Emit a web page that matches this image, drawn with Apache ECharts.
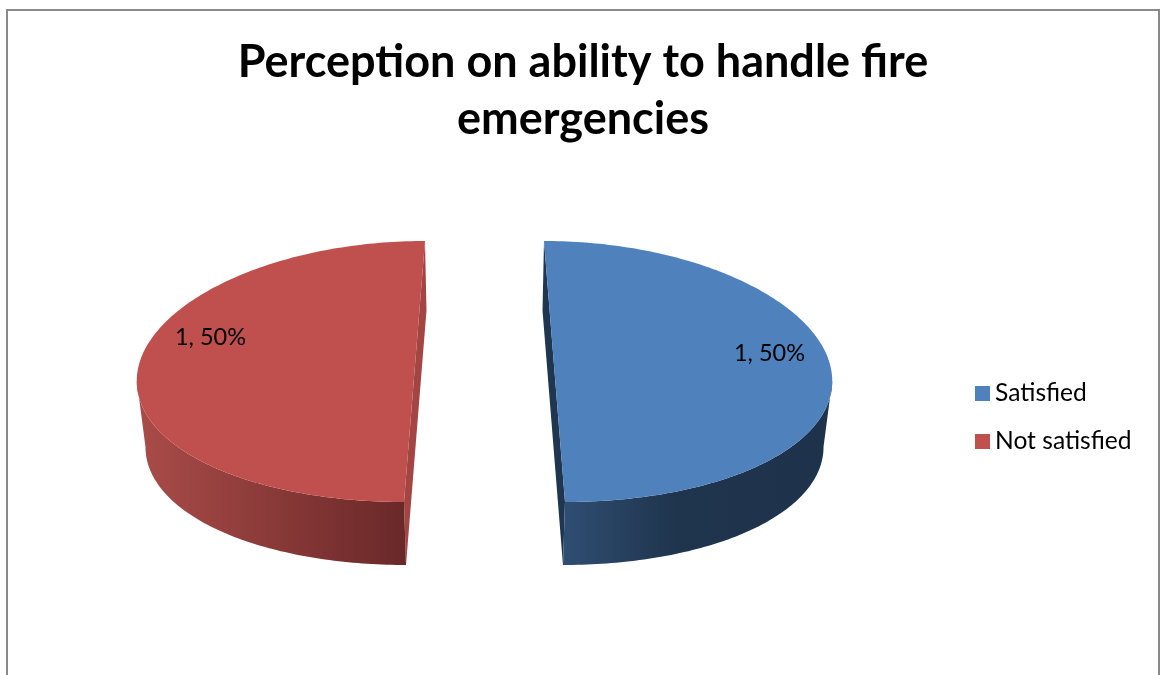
<!DOCTYPE html>
<html><head><meta charset="utf-8">
<style>html,body{margin:0;padding:0;background:#fff;overflow:hidden}#c{width:1160px;height:675px}</style>
<script src="https://cdn.jsdelivr.net/npm/echarts@6/dist/echarts.min.js"></script>
</head><body><div id="c"></div>
<script>
const titleText = 'Perception on ability to handle fire\nemergencies';
const categories = ['Satisfied', 'Not satisfied'];
const values = [1, 1];

const FONT = 'Lato, "Open Sans", sans-serif';
const topColors = ['#4F81BD', '#C0504D'];
const cutColors = ['#1F3650', '#A34543'];
const wallStops = [
  [[0, '#2F4E73'], [0.42, '#1F344D'], [1, '#1E334B']],
  [[0, '#AA4C49'], [1, '#692828']]
];
const labelOffsets = [[215, -18], [-204, -34]];

const PIE = { cx: 484.5, cy: 371.5, rx: 277, ry: 130.5, explode: 70, depth: 63, startDeg: 0,
              persp: 0.035, explodePersp: 0.15, shrink: 0.975 };
const total = values.reduce((a, b) => a + b, 0);

function sliceAngles(idx) {
  const before = values.slice(0, idx).reduce((a, b) => a + b, 0);
  const s = PIE.startDeg * Math.PI / 180 + before / total * 2 * Math.PI;
  return [s, s + values[idx] / total * 2 * Math.PI];
}
function rim(t, dx) {
  const c = Math.cos(t);
  const x = PIE.rx * Math.sin(t) * (1 - PIE.persp * c) + dx * (1 - PIE.explodePersp * c);
  return [PIE.cx + x, PIE.cy - PIE.ry * c];
}
function lower(t, dx) {
  const p = rim(t, dx);
  const rel = p[1] - PIE.cy;
  return [PIE.cx + (p[0] - PIE.cx) * PIE.shrink,
          PIE.cy + PIE.depth + PIE.ry * (1 - PIE.shrink) + rel * PIE.shrink];
}
function widestIndex(arc) {
  let best = 0, bestD = -1;
  arc.forEach((p, i) => {
    const d = Math.abs(p[0] - PIE.cx);
    if (d > bestD) { bestD = d; best = i; }
  });
  return best;
}
function renderSlice(seriesIndex) {
  return function (params, api) {
    const v = api.value(0);
    const [a0, a1] = sliceAngles(seriesIndex);
    const mid = (a0 + a1) / 2;
    const dx = PIE.explode * Math.sin(mid);
    const N = 180, arcTop = [], arcLow = [];
    for (let i = 0; i <= N; i++) {
      const t = a0 + (a1 - a0) * i / N;
      arcTop.push(rim(t, dx));
      arcLow.push(lower(t, dx));
    }
    const centre = [PIE.cx + dx, PIE.cy];
    const grad = { type: 'linear', x: 0, y: 0, x2: 1, y2: 0,
      colorStops: wallStops[seriesIndex].map(s => ({ offset: s[0], color: s[1] })) };
    const pct = Math.round(v / total * 100);
    const off = labelOffsets[seriesIndex];
    // the wall runs along the near half of the rim, from the widest point of each outline
    const nearTop = seriesIndex === 0 ? arcTop.slice(widestIndex(arcTop)) : arcTop.slice(0, widestIndex(arcTop) + 1);
    const nearLow = seriesIndex === 0 ? arcLow.slice(widestIndex(arcLow)) : arcLow.slice(0, widestIndex(arcLow) + 1);
    return { type: 'group', children: [
      { type: 'polygon', shape: { points: [arcTop[0], arcLow[0], arcLow[N], arcTop[N]] },
        style: { fill: cutColors[seriesIndex] } },
      { type: 'polygon', shape: { points: nearTop.concat(nearLow.slice().reverse()) },
        style: { fill: grad } },
      { type: 'polygon', shape: { points: arcTop },
        style: { fill: api.visual('color') } },
      { type: 'text', style: { text: v + ', ' + pct + '%', x: centre[0] + off[0], y: centre[1] + off[1],
        align: 'center', verticalAlign: 'middle', fill: '#000', font: '23.5px ' + FONT } }
    ] };
  };
}
const chart = echarts.init(document.getElementById('c'), null, { renderer: 'canvas' });
chart.setOption({
  animation: false,
  backgroundColor: '#fff',
  title: { text: titleText, left: 578, top: 29, textAlign: 'center',
    textStyle: { fontFamily: FONT, fontWeight: 'bold', fontSize: 45, lineHeight: 57, color: '#000' } },
  legend: { orient: 'vertical', left: 970, top: 375, itemWidth: 15, itemHeight: 15, itemGap: 21, icon: 'rect',
    data: categories, selectedMode: false,
    textStyle: { fontFamily: FONT, fontSize: 24.6, color: '#000', padding: [0, 0, 0, 0], height: 27, lineHeight: 27 } },
  graphic: [{ type: 'rect', silent: true, shape: { x: 7, y: 10, width: 1152, height: 700 },
    style: { fill: 'none', stroke: '#898989', lineWidth: 2 } }],
  series: categories.map((name, i) => ({
    type: 'custom', name, coordinateSystem: 'none',
    itemStyle: { color: topColors[i] },
    renderItem: renderSlice(i),
    data: [values[i]]
  }))
});
</script></body></html>
